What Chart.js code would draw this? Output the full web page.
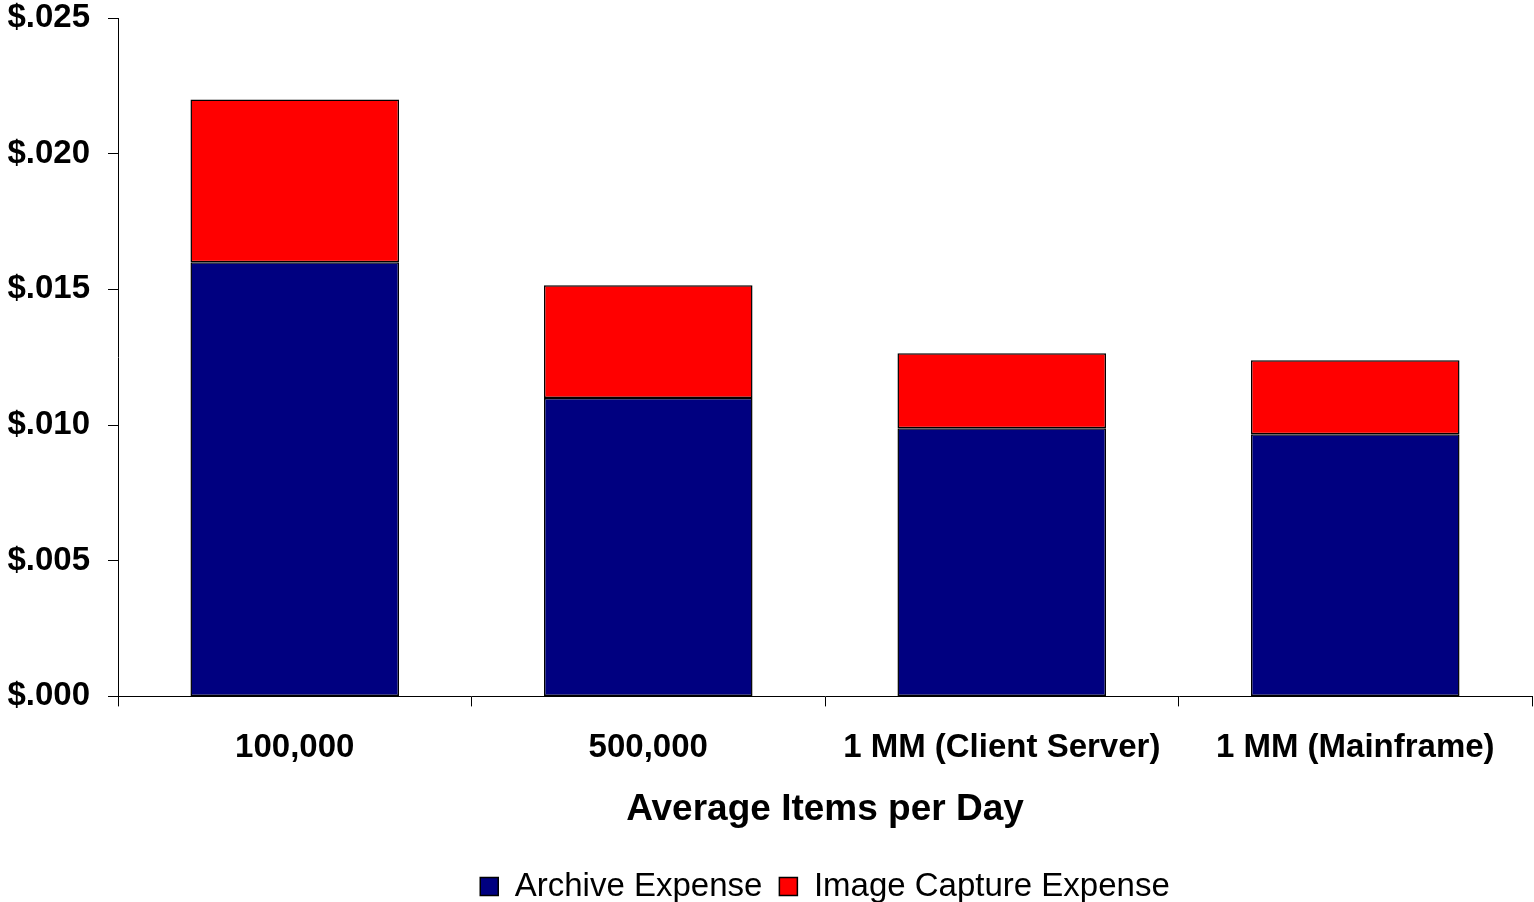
<!DOCTYPE html>
<html>
<head>
<meta charset="utf-8">
<title>Average Items per Day</title>
<script src="https://cdn.jsdelivr.net/npm/chart.js@4"></script>
<style>
    html, body { margin: 0; padding: 0; background: #fff; }
    #wrap { width: 1534px; height: 902px; position: relative; }
</style>
</head>
<body>
<div id="wrap"><canvas id="costChart"></canvas></div>
<script>
// chart data
const categories = ['100,000', '500,000', '1 MM (Client Server)', '1 MM (Mainframe)'];
const archiveExpense = [0.0160, 0.0110, 0.00988, 0.00966];
const imageCaptureExpense = [0.0060, 0.00415, 0.00277, 0.00273];
const yTickLabels = ['$.000', '$.005', '$.010', '$.015', '$.020', '$.025'];

const fontFamily = '"Liberation Sans", Arial, Helvetica, sans-serif';

const ctx = document.getElementById('costChart');

new Chart(ctx, {
    type: 'bar',
    data: {
        labels: categories,
        datasets: [
            {
                label: 'Archive Expense',
                data: archiveExpense,
                backgroundColor: '#000080',
                borderColor: '#000000',
                borderWidth: 1.5,
                borderSkipped: false
            },
            {
                label: 'Image Capture Expense',
                data: imageCaptureExpense,
                backgroundColor: '#FF0000',
                borderColor: '#000000',
                borderWidth: 1.5,
                borderSkipped: false
            }
        ]
    },
    options: {
        responsive: true,
        maintainAspectRatio: false,
        animation: false,
        barPercentage: 0.59,
        categoryPercentage: 1.0,
        layout: {
            padding: { top: 18, right: 2, left: 0, bottom: -11 }
        },
        plugins: {
            legend: {
                position: 'bottom',
                fullSize: false,
                labels: {
                    color: '#000',
                    boxWidth: 18,
                    boxHeight: 18,
                    padding: 17,
                    font: { family: fontFamily, size: 33, lineHeight: 1 }
                }
            },
            tooltip: { enabled: false }
        },
        scales: {
            x: {
                stacked: true,
                grid: {
                    display: true,
                    drawOnChartArea: false,
                    drawTicks: true,
                    tickLength: 10,
                    color: '#000'
                },
                border: { color: '#000', width: 1 },
                ticks: {
                    color: '#000',
                    padding: 22,
                    maxRotation: 0,
                    font: { family: fontFamily, size: 33, weight: 'bold', lineHeight: 1.2 }
                },
                title: {
                    display: true,
                    text: 'Average Items per Day',
                    color: '#000',
                    padding: { top: 1, bottom: 25 },
                    font: { family: fontFamily, size: 37, weight: 'bold', lineHeight: 1 }
                }
            },
            y: {
                stacked: true,
                min: 0,
                max: 0.025,
                grid: {
                    display: true,
                    drawOnChartArea: false,
                    drawTicks: true,
                    tickLength: 10,
                    color: '#000'
                },
                border: { color: '#000', width: 1 },
                ticks: {
                    stepSize: 0.005,
                    color: '#000',
                    padding: 18,
                    font: { family: fontFamily, size: 33, weight: 'bold', lineHeight: 1 },
                    callback: function(value, index) {
                        return yTickLabels[index];
                    }
                },
                afterFit: function(scale) {
                    scale.width = 118;
                    // the top label may overhang the plot, as in the original
                    scale.paddingTop = 0;
                    scale.paddingBottom = 0;
                }
            }
        }
    }
});
</script>
</body>
</html>
